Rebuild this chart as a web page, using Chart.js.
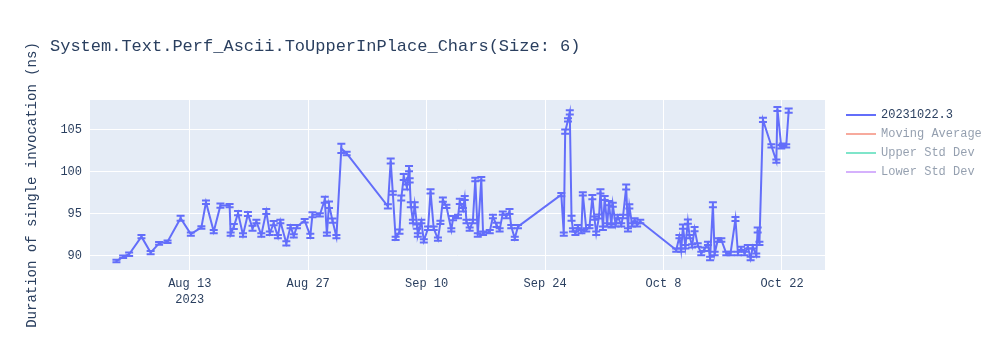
<!DOCTYPE html>
<html>
<head>
<meta charset="utf-8">
<script src="https://cdn.jsdelivr.net/npm/chart.js@4.4.0/dist/chart.umd.min.js"></script>
<style>
	body { margin: 0; background: #fff; }
</style>
</head>
<body>
<canvas id="perfchart" width="1000" height="350"></canvas>
<script>
// benchmark runs (UTC) and measured duration per run, ns
var runDates = [
	'2023-08-04 08:00','2023-08-05 03:00','2023-08-05 20:00','2023-08-07 07:00','2023-08-08 09:00','2023-08-09 09:00','2023-08-10 09:00','2023-08-11 22:00','2023-08-13 03:00','2023-08-14 09:00',
	'2023-08-14 22:00','2023-08-15 20:00','2023-08-16 15:00','2023-08-17 17:00','2023-08-17 20:00','2023-08-18 05:00','2023-08-18 17:00','2023-08-19 07:00','2023-08-19 21:00','2023-08-20 10:00',
	'2023-08-20 21:00','2023-08-21 11:00','2023-08-22 01:00','2023-08-22 11:00','2023-08-22 22:00','2023-08-23 10:00','2023-08-23 17:00','2023-08-24 10:00','2023-08-24 22:00','2023-08-25 07:00',
	'2023-08-25 16:00','2023-08-26 14:00','2023-08-27 06:00','2023-08-27 12:00','2023-08-28 09:00','2023-08-28 23:00','2023-08-29 05:00','2023-08-29 11:00','2023-08-29 21:00','2023-08-30 08:00',
	'2023-08-30 22:00','2023-08-31 13:00','2023-09-05 10:00','2023-09-05 18:00','2023-09-06 00:00','2023-09-06 08:00','2023-09-06 19:00','2023-09-07 00:00','2023-09-07 07:00','2023-09-07 16:00',
	'2023-09-07 22:00','2023-09-07 23:50','2023-09-08 03:00','2023-09-08 09:00','2023-09-08 14:00','2023-09-08 21:00','2023-09-08 23:00','2023-09-09 09:00','2023-09-09 16:00','2023-09-10 04:00',
	'2023-09-10 11:00','2023-09-10 20:00','2023-09-11 08:00','2023-09-11 15:00','2023-09-11 22:00','2023-09-12 08:00','2023-09-12 22:00','2023-09-13 03:00','2023-09-13 17:00','2023-09-13 22:00',
	'2023-09-14 07:00','2023-09-14 12:00','2023-09-14 17:00','2023-09-15 02:00','2023-09-15 11:00','2023-09-15 18:00','2023-09-16 01:00','2023-09-16 11:00','2023-09-16 16:00','2023-09-17 11:00',
	'2023-09-17 20:00','2023-09-18 06:00','2023-09-18 15:00','2023-09-19 00:00','2023-09-19 10:00','2023-09-19 19:00','2023-09-20 00:00','2023-09-20 10:00','2023-09-20 19:00','2023-09-25 22:00',
	'2023-09-26 05:00','2023-09-26 09:00','2023-09-26 17:00','2023-09-26 22:00','2023-09-27 03:00','2023-09-27 07:00','2023-09-27 14:00','2023-09-27 21:00','2023-09-28 07:00','2023-09-28 11:00',
	'2023-09-28 21:00','2023-09-29 06:00','2023-09-29 14:00','2023-09-29 20:00','2023-09-30 01:00','2023-09-30 09:00','2023-09-30 13:00','2023-09-30 20:00','2023-10-01 01:00','2023-10-01 08:00',
	'2023-10-01 13:00','2023-10-01 20:00','2023-10-02 00:00','2023-10-02 08:00','2023-10-02 14:00','2023-10-03 00:00','2023-10-03 05:00','2023-10-03 14:00','2023-10-03 19:00','2023-10-03 23:00',
	'2023-10-04 07:00','2023-10-04 14:00','2023-10-04 21:00','2023-10-05 06:00','2023-10-09 12:00','2023-10-09 21:00','2023-10-10 02:00','2023-10-10 07:00','2023-10-10 14:00','2023-10-10 21:00',
	'2023-10-11 02:00','2023-10-11 09:00','2023-10-11 16:00','2023-10-12 01:00','2023-10-12 11:00','2023-10-12 20:00','2023-10-13 06:00','2023-10-13 12:00','2023-10-13 20:00','2023-10-14 01:00',
	'2023-10-14 10:00','2023-10-14 20:00','2023-10-15 10:00','2023-10-15 22:00','2023-10-16 12:00','2023-10-16 19:00','2023-10-17 04:00','2023-10-17 14:00','2023-10-17 23:00','2023-10-18 07:00',
	'2023-10-18 13:00','2023-10-18 23:00','2023-10-19 03:00','2023-10-19 08:00','2023-10-19 18:00','2023-10-20 18:00','2023-10-21 08:00','2023-10-21 11:00','2023-10-21 22:00','2023-10-22 02:00',
	'2023-10-22 12:00','2023-10-22 19:00'
];

var durations = [
	89.4, 89.9, 90.2, 92.3, 90.4, 91.5, 91.7, 94.5, 92.6, 93.4,
	96.4, 92.9, 96.0, 96.0, 92.6, 93.5, 95.1, 92.5, 95.0, 93.3,
	94.1, 92.5, 95.3, 92.7, 93.9, 92.3, 94.1, 91.5, 93.5, 92.4,
	93.5, 94.2, 92.4, 94.9, 94.9, 96.7, 92.6, 96.1, 94.2, 92.3,
	102.8, 102.2, 95.9, 101.3, 97.5, 92.1, 92.9, 96.9, 99.4, 98.2,
	100.4, 99.0, 96.1, 94.1, 96.1, 93.5, 92.5, 94.1, 91.8, 93.3,
	97.7, 93.3, 92.0, 94.0, 96.7, 95.9, 93.1, 94.5, 94.7, 96.5,
	95.5, 96.9, 94.1, 93.2, 94.1, 99.1, 92.5, 99.2, 92.7, 92.9,
	94.7, 93.7, 93.1, 95.1, 94.7, 95.3, 93.5, 92.1, 93.5, 97.3,
	92.6, 104.8, 106.2, 107.1, 94.5, 93.1, 92.7, 93.5, 92.9, 97.4,
	93.1, 93.5, 97.0, 94.5, 92.7, 94.7, 97.7, 93.3, 96.9, 93.7,
	96.3, 93.6, 96.1, 93.7, 94.7, 93.7, 94.7, 98.2, 93.1, 95.9,
	93.7, 94.3, 93.7, 94.1, 90.7, 92.3, 90.7, 93.5, 91.1, 94.1,
	92.3, 91.2, 93.2, 91.3, 90.3, 90.8, 91.5, 89.7, 96.1, 90.3,
	91.9, 91.9, 90.3, 90.3, 94.4, 90.3, 90.9, 90.3, 91.1, 89.7,
	91.1, 90.1, 93.1, 91.5, 106.2, 103.1, 101.3, 107.5, 103.0, 103.2,
	103.1, 107.3
];

// half-height of the error bar on each run
var spread = [
	0.15,0.15,0.2,0.2,0.2,0.15,0.15,0.3,0.2,0.15,
	0.2,0.2,0.25,0.2,0.2,0.3,0.25,0.2,0.25,0.3,
	0.2,0.2,0.3,0.2,0.25,0.2,0.2,0.25,0.2,0.2,
	0.2,0.2,0.25,0.3,0.2,0.35,0.2,0.4,0.25,0.2,
	0.55,0.2,0.25,0.3,0.2,0.2,0.25,0.3,0.35,0.3,
	0.3,0.25,0.3,0.2,0.3,0.25,0.2,0.2,0.2,0.2,
	0.25,0.2,0.2,0.2,0.25,0.2,0.2,0.25,0.2,0.3,
	0.2,0.25,0.2,0.2,0.2,0.2,0.2,0.2,0.2,0.2,
	0.2,0.25,0.2,0.2,0.2,0.3,0.2,0.2,0.2,0.2,
	0.2,0.25,0.2,0.25,0.3,0.2,0.2,0.2,0.2,0.2,
	0.2,0.2,0.25,0.2,0.2,0.25,0.25,0.2,0.25,0.2,
	0.25,0.2,0.25,0.2,0.2,0.2,0.2,0.3,0.2,0.25,
	0.2,0.2,0.2,0.2,0.2,0.2,0.2,0.25,0.2,0.25,
	0.2,0.2,0.25,0.2,0.2,0.2,0.2,0.2,0.3,0.2,
	0.2,0.2,0.2,0.2,0.25,0.2,0.2,0.2,0.2,0.2,
	0.2,0.2,0.3,0.2,0.25,0.2,0.2,0.25,0.2,0.2,
	0.2,0.25
];

var tickDates = ['2023-08-13 00:00', '2023-08-27 00:00', '2023-09-10 00:00', '2023-09-24 00:00', '2023-10-08 00:00', '2023-10-22 00:00'];
var xRange = ['2023-08-01 05:00', '2023-10-27 02:00'];
var yTicks = [90, 95, 100, 105];

var seriesNames = ['20231022.3', 'Moving Average', 'Upper Std Dev', 'Lower Std Dev'];
var seriesColors = ['#636efa', '#EF553B', '#00cc96', '#ab63fa'];

var monthNames = ['Jan','Feb','Mar','Apr','May','Jun','Jul','Aug','Sep','Oct','Nov','Dec'];
var fontFamily = '"Liberation Mono", "Courier New", monospace';
var textColor = '#2a3f5f';

function toTime(s) {
	return Date.parse(s.replace(' ', 'T') + ':00Z');
}

var points = [];
for (var i in runDates) {
	points.push({x: toTime(runDates[i]), y: durations[i]});
}

// plot background behind the grid
var plotBackground = {
	id: 'plotBackground',
	beforeDraw: function(chart) {
		var a = chart.chartArea;
		chart.ctx.save();
		chart.ctx.fillStyle = '#E5ECF6';
		chart.ctx.fillRect(a.left, a.top, a.right - a.left, a.bottom - a.top);
		chart.ctx.restore();
	}
};

// vertical error bars with caps on the first series
var errorBars = {
	id: 'errorBars',
	afterDatasetsDraw: function(chart) {
		var meta = chart.getDatasetMeta(0);
		var y = chart.scales.y;
		var ctx = chart.ctx;
		var a = chart.chartArea;
		ctx.save();
		ctx.beginPath();
		ctx.rect(a.left, a.top, a.right - a.left, a.bottom - a.top);
		ctx.clip();
		ctx.strokeStyle = seriesColors[0];
		ctx.lineWidth = 2;
		meta.data.forEach(function(pt, i) {
			var top = y.getPixelForValue(durations[i] + spread[i]);
			var bot = y.getPixelForValue(durations[i] - spread[i]);
			ctx.beginPath();
			ctx.moveTo(pt.x, top); ctx.lineTo(pt.x, bot);
			ctx.moveTo(pt.x - 4, top); ctx.lineTo(pt.x + 4, top);
			ctx.moveTo(pt.x - 4, bot); ctx.lineTo(pt.x + 4, bot);
			ctx.stroke();
		});
		ctx.restore();
	}
};

// title and the legend on the right (hidden series drawn faded)
var titleAndLegend = {
	id: 'titleAndLegend',
	afterDraw: function(chart) {
		var ctx = chart.ctx;
		ctx.save();
		ctx.fillStyle = textColor;
		ctx.font = '17px ' + fontFamily;
		ctx.textBaseline = 'middle';
		ctx.fillText('System.Text.Perf_Ascii.ToUpperInPlace_Chars(Size: 6)', 50, 46);

		ctx.font = '12px ' + fontFamily;
		chart.data.datasets.forEach(function(ds, i) {
			var yy = 115 + i * 19;
			ctx.globalAlpha = ds.hidden ? 0.5 : 1;
			ctx.strokeStyle = ds.borderColor;
			ctx.lineWidth = 2;
			ctx.beginPath();
			ctx.moveTo(846, yy);
			ctx.lineTo(876, yy);
			ctx.stroke();
			ctx.fillStyle = textColor;
			ctx.fillText(ds.label, 881, yy);
		});
		ctx.restore();
	}
};

var datasets = [{
	label: seriesNames[0],
	data: points,
	borderColor: seriesColors[0],
	backgroundColor: seriesColors[0],
	borderWidth: 2,
	pointRadius: 0,
	tension: 0
}];
for (var s = 1; s < seriesNames.length; s++) {
	datasets.push({
		label: seriesNames[s],
		data: [],
		borderColor: seriesColors[s],
		backgroundColor: seriesColors[s],
		hidden: true
	});
}

var ctx = document.getElementById('perfchart');

var perfChart = new Chart(ctx, {
	type: 'line',
	data: { datasets: datasets },
	plugins: [plotBackground, errorBars, titleAndLegend],
	options: {
		responsive: false,
		animation: false,
		devicePixelRatio: 1,
		layout: { padding: { left: 20, right: 175, top: 100, bottom: 0 } },
		plugins: {
			legend: { display: false },
			title: { display: false },
			tooltip: { enabled: false }
		},
		scales: {
			x: {
				type: 'linear',
				min: toTime(xRange[0]),
				max: toTime(xRange[1]),
				afterBuildTicks: function(scale) {
					scale.ticks = tickDates.map(function(d) { return {value: toTime(d)}; });
				},
				afterFit: function(scale) { scale.height = 80; },
				grid: { color: '#ffffff', lineWidth: 1, drawTicks: false },
				border: { display: false },
				ticks: {
					autoSkip: false,
					maxRotation: 0,
					padding: 6,
					color: textColor,
					font: { family: fontFamily, size: 12, lineHeight: 1.35 },
					callback: function(value, index) {
						var d = new Date(value);
						var label = monthNames[d.getUTCMonth()] + ' ' + d.getUTCDate();
						return index === 0 ? [label, String(d.getUTCFullYear())] : label;
					}
				}
			},
			y: {
				min: 88.33,
				max: 108.57,
				afterBuildTicks: function(scale) {
					scale.ticks = yTicks.map(function(v) { return {value: v}; });
				},
				afterFit: function(scale) { scale.width = 70; },
				grid: { color: '#ffffff', lineWidth: 1, drawTicks: false },
				border: { display: false },
				ticks: {
					padding: 8,
					color: textColor,
					font: { family: fontFamily, size: 12 }
				},
				title: {
					display: true,
					text: 'Duration of single invocation (ns)',
					color: textColor,
					font: { family: fontFamily, size: 14 }
				}
			}
		}
	}
});
</script>
</body>
</html>
